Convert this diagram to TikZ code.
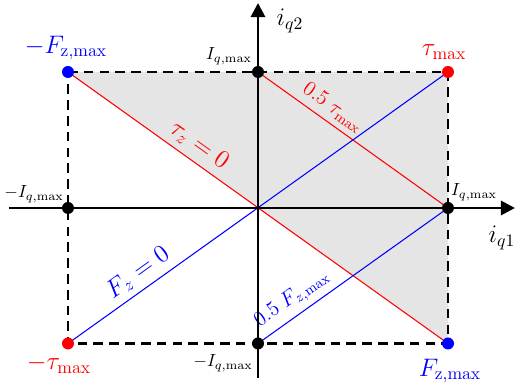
\documentclass[tikz,border=0pt]{standalone}
\usepackage{amsmath, amssymb}
\usepackage{xcolor}
\usepackage{tikz}
\usetikzlibrary{calc, arrows.meta, positioning}

\tikzset{
    dot/.style={circle, fill=#1, inner sep=0pt, minimum size=0.24cm},
    dot/.default=black,
    boxline/.style={line width=1.6pt, dash pattern=on 5.5pt off 3.5pt},
    axisline/.style={line width=1.6pt, ->},
    limlabel/.style={font=\normalsize, inner sep=0pt}
}

\begin{document}
\begin{tikzpicture}[>={Triangle[length=8pt, width=8pt]}]
    \useasboundingbox (-5.16,-3.58) rectangle (5.14,4.16);
    % Các điểm góc và điểm giữa
    \coordinate (O) at (0,0);
    \coordinate (Fminus) at (-3.8,2.72);
    \coordinate (Tplus) at (3.8,2.72);
    \coordinate (Tminus) at (-3.8,-2.71);
    \coordinate (Fplus) at (3.8,-2.71);
    \coordinate (Itop) at (0,2.72);
    \coordinate (Ibot) at (0,-2.71);
    \coordinate (Ileft) at (-3.8,0);
    \coordinate (Iright) at (3.8,0);
    \coordinate (xstart) at (-4.98,0);
    \coordinate (xend) at (5.14,0);
    \coordinate (ystart) at (0,-3.4);
    \coordinate (yend) at (0,4.1);

    % Vùng tô xám
    \fill[black!10] (Fminus) -- (Tplus) -- (Fplus) -- cycle;

    % Đường tau và F
    \draw[red, line width=0.6pt] (Fminus) -- node[pos=0.32, sloped, above, font=\Large] {$\tau_z = 0$} (Fplus);
    \draw[red, line width=0.6pt] (Itop) -- node[pos=0.35, sloped, above, font=\large] {$0.5\;\tau_{\mathrm{max}}$} (Iright);
    \draw[blue, line width=0.6pt] (Tminus) -- node[pos=0.21, sloped, above, font=\Large] {$F_z = 0$} (Tplus);
    \draw[blue, line width=0.6pt] (Ibot) -- node[pos=0.23, sloped, above, font=\large] {$0.5\;F_{z,\mathrm{max}}$} (Iright);

    % Hình chữ nhật giới hạn
    \draw[boxline] (Fminus) -- (Tplus) -- (Fplus) -- (Tminus) -- cycle;

    % Vẽ hệ trục
    \draw[axisline] (xstart) -- (xend);
    \draw[axisline] (ystart) -- (yend);
    \node[font=\Large] (iq1) at (4.88,-0.6) {$i_{q1}$};
    \node[font=\Large] (iq2) at (0.64,3.74) {$i_{q2}$};

    % Các điểm
    \node[dot=blue] (dFminus) at (Fminus) {};
    \node[dot=red] (dTplus) at (Tplus) {};
    \node[dot=red] (dTminus) at (Tminus) {};
    \node[dot=blue] (dFplus) at (Fplus) {};
    \node[dot] (dItop) at (Itop) {};
    \node[dot] (dIbot) at (Ibot) {};
    \node[dot] (dIleft) at (Ileft) {};
    \node[dot] (dIright) at (Iright) {};

    % Nhãn
    \node[blue, font=\Large] (lFminus) at (-3.84,3.2) {$-F_{\mathrm{z,max}}$};
    \node[red, font=\Large] (lTplus) at (3.72,3.12) {$\tau_{\mathrm{max}}$};
    \node[red, font=\Large] (lTminus) at (-3.98,-3.12) {$-\tau_{\mathrm{max}}$};
    \node[blue, font=\Large] (lFplus) at (3.84,-3.26) {$F_{\mathrm{z,max}}$};
    \node[limlabel] (lItop) at (-0.58,3.04) {$I_{q,\mathrm{max}}$};
    \node[limlabel] (lIright) at (4.32,0.32) {$I_{q,\mathrm{max}}$};
    \node[limlabel] (lIleft) at (-4.48,0.28) {$-I_{q,\mathrm{max}}$};
    \node[limlabel] (lIbot) at (-0.70,-3.1) {$-I_{q,\mathrm{max}}$};
\end{tikzpicture}
\end{document}
